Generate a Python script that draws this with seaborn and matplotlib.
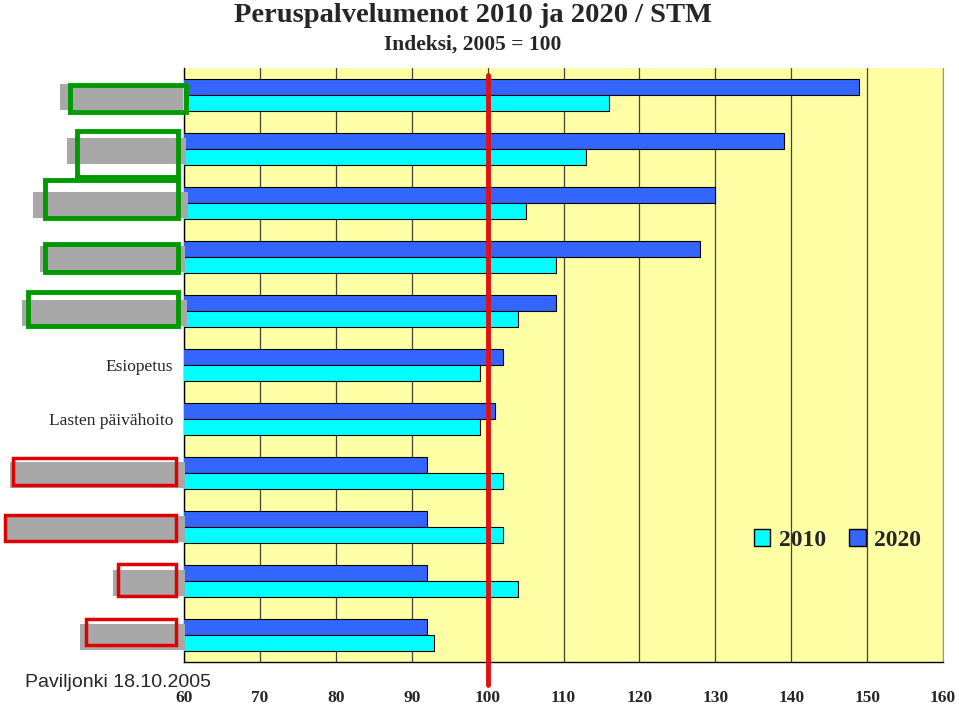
import pandas as pd
import seaborn as sns
import matplotlib.pyplot as plt
from matplotlib.patches import Rectangle, Patch
from matplotlib.transforms import blended_transform_factory

# data (index, 2005 = 100)
categories = ["c1", "c2", "c3", "c4", "c5", "Esiopetus", "Lasten päivähoito",
              "c8", "c9", "c10", "c11"]
tick_labels = ["", "", "", "", "", "Esiopetus", "Lasten päivähoito", "", "", "", ""]
values_2010 = [116, 113, 105, 109, 104, 99, 99, 102, 102, 104, 93]
values_2020 = [149, 139, 130, 128, 109, 102, 101, 92, 92, 92, 92]

df = pd.DataFrame({
    "cat": categories * 2,
    "value": values_2020 + values_2010,
    "year": ["2020"] * len(categories) + ["2010"] * len(categories),
})

colors = {"2010": "#00FFFF", "2020": "#3366FF"}
serif = ["Liberation Serif", "DejaVu Serif"]

sns.set_style("white")
fig = plt.figure(figsize=(9.59, 7.07), dpi=100)
ax = fig.add_axes([0.1919, 0.0636, 0.7914, 0.8402])
ax.set_facecolor("#FFFFA6")

sns.barplot(data=df, y="cat", x="value", hue="year", hue_order=["2020", "2010"],
            order=categories, palette=colors, saturation=1, orient="h", width=0.58,
            edgecolor="black", linewidth=0.8, legend=False, ax=ax, zorder=3)

ax.set_xlim(60, 160)
ax.set_ylim(len(categories) - 0.5, -0.5)
ax.set_xticks(range(60, 161, 10))
ax.set_xticklabels([str(v) for v in range(60, 161, 10)], fontfamily=serif,
                   fontweight="bold", fontsize=12.5)
ax.set_yticks(range(len(categories)))
ax.set_yticklabels(tick_labels, fontfamily=serif, fontsize=12.5)
ax.set_yticks([i - 0.5 for i in range(len(categories) + 1)], minor=True)
ax.tick_params(axis="y", which="major", length=0, pad=8)
ax.tick_params(axis="y", which="minor", length=5, width=1, color="black", direction="out")
ax.tick_params(axis="x", length=5, width=1, color="black", direction="out", pad=15)
ax.set_xlabel("")
ax.set_ylabel("")
ax.grid(axis="x", color="#444433", linewidth=0.9, zorder=0)
ax.set_axisbelow(True)

for side in ["left", "bottom"]:
    ax.spines[side].set_color("black")
    ax.spines[side].set_linewidth(1)
ax.spines["top"].set_visible(False)
ax.spines["right"].set_color("#999999")

# reference line at 100
ax.axvline(100, ymin=-0.039, ymax=0.988, color="#E01010", linewidth=3.5,
           clip_on=False, zorder=5)

# redacted labels: grey blots with coloured boxes
tr = blended_transform_factory(ax.transAxes, ax.transData)
green = "#009A00"
red = "#E00000"
blots = [  # (category, grey x0, grey x1, box x0, box x1, colour) in pixels from figure left
    (0, 60, 183, 70, 186, green),
    (1, 67, 186, 77, 178, green),
    (2, 33, 188, 45, 178, green),
    (3, 40, 185, 45, 178, green),
    (4, 22, 187, 28, 178, green),
    (7, 10, 185, 13, 176, red),
    (8, 5, 185, 5, 176, red),
    (9, 113, 185, 118, 176, red),
    (10, 80, 185, 86, 176, red),
]
box_dy = {0: (-0.18, 0.32), 1: (-0.33, 0.52), 2: (-0.42, 0.28), 3: (-0.25, 0.28),
          4: (-0.35, 0.28), 7: (-0.28, 0.22), 8: (-0.22, 0.26), 9: (-0.32, 0.28),
          10: (-0.3, 0.18)}
for cat, gx0, gx1, bx0, bx1, col in blots:
    to_ax = lambda px: (px - 184) / 759
    ax.add_patch(Rectangle((to_ax(gx0), cat - 0.2), to_ax(gx1) - to_ax(gx0), 0.48,
                           transform=tr, facecolor="#A8A8A8", edgecolor="none",
                           clip_on=False, zorder=6))
    top, bot = box_dy[cat]
    ax.add_patch(Rectangle((to_ax(bx0), cat + top), to_ax(bx1) - to_ax(bx0), bot - top,
                           transform=tr, facecolor="none", edgecolor=col,
                           linewidth=3.5 if col == green else 2.5,
                           clip_on=False, zorder=7))

handles = [Patch(facecolor=colors["2010"], edgecolor="black", label="2010"),
           Patch(facecolor=colors["2020"], edgecolor="black", label="2020")]
ax.legend(handles=handles, loc="center", bbox_to_anchor=(0.861, 0.205), ncol=2,
          frameon=False, prop={"family": serif, "weight": "bold", "size": 17},
          handlelength=0.7, handleheight=0.7, handletextpad=0.35, columnspacing=1.0)

fig.text(0.493, 0.978, "Peruspalvelumenot 2010 ja 2020 / STM", ha="center", va="center",
         fontfamily=serif, fontweight="bold", fontsize=20.5)
fig.text(0.493, 0.937, "Indeksi, 2005 = 100", ha="center", va="center",
         fontfamily=serif, fontweight="bold", fontsize=15.5)
fig.text(0.026, 0.034, "Paviljonki 18.10.2005", ha="left", va="center",
         fontfamily=["Liberation Sans", "DejaVu Sans"], fontsize=14)

fig.savefig("out.png", dpi=100)
